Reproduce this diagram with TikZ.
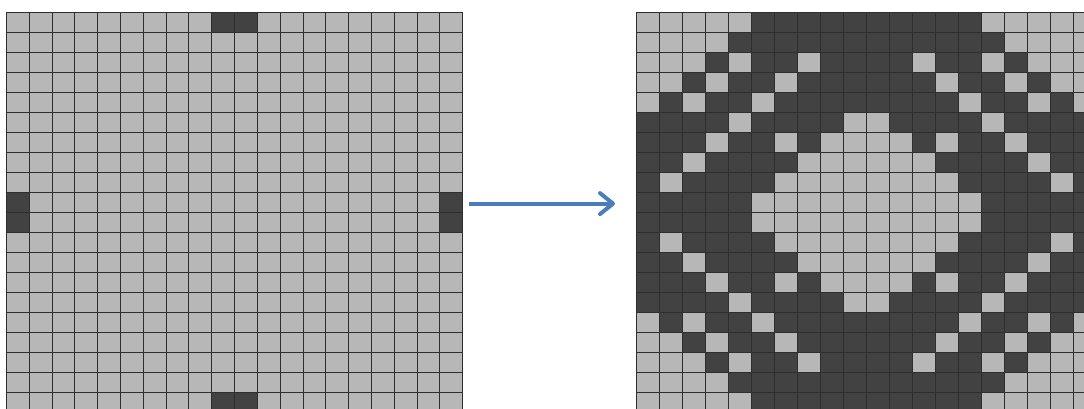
\documentclass[tikz,border=0pt]{standalone}
\usetikzlibrary{arrows.meta}
\definecolor{cellLight}{HTML}{B7B7B7}
\definecolor{cellDark}{HTML}{424242}
\definecolor{gridLine}{HTML}{2E2E2E}
\definecolor{arrowBlue}{HTML}{4A7DBA}
\tikzset{
  lightcell/.style={fill=cellLight},
  darkcell/.style={fill=cellDark},
  gridlines/.style={draw=gridLine, line width=0.8pt},
  flowarrow/.style={draw=arrowBlue, line width=4pt,
    -{Straight Barb[length=13pt, width=21pt, line cap=round, line join=round]}}
}
% rule lines of a 20x20 board in the current cell units
\newcommand{\boardlines}{%
  \foreach \k in {0,...,20} {
    \draw[gridlines] (\k,0) -- (\k,20);
    \draw[gridlines] (0,\k) -- (20,\k);
  }%
}
\begin{document}
\begin{tikzpicture}[x=1pt, y=-1pt]
  \useasboundingbox (0,0) rectangle (1084,408);
  \clip (0,0) rectangle (1084,408);

  % ---- left grid: 20x20, dark pairs in the middle of each edge ----
  \begin{scope}[shift={(6.3,12.3)}, x=22.82pt, y=-20pt]
    \fill[lightcell] (0,0) rectangle (20,20);
    \foreach \c/\r in {9/0,10/0,9/19,10/19,0/9,0/10,19/9,19/10}
      \fill[darkcell] (\c,\r) rectangle ++(1,1);
    \boardlines
    \coordinate (leftE) at (20,10);
  \end{scope}

  % ---- right grid: 20x20, symmetric in both directions ----
  \begin{scope}[shift={(636.7,12.3)}, x=23pt, y=-20pt]
    \fill[lightcell] (0,0) rectangle (20,20);
    % dark columns of the top-left quarter, row by row
    \foreach \r/\cs in {0/{5,6,7,8,9}, 1/{4,5,6,7,8,9}, 2/{3,5,6,8,9},
                        3/{2,4,5,7,8,9}, 4/{1,3,4,6,7,8,9}, 5/{0,1,2,3,5,6,7,8},
                        6/{0,1,2,4,5,7}, 7/{0,1,3,4,5,6}, 8/{0,2,3,4,5},
                        9/{0,1,2,3,4}} {
      \foreach \c in \cs {
        \pgfmathtruncatemacro{\mc}{19-\c}
        \pgfmathtruncatemacro{\mr}{19-\r}
        \fill[darkcell] (\c,\r) rectangle ++(1,1);
        \fill[darkcell] (\mc,\r) rectangle ++(1,1);
        \fill[darkcell] (\c,\mr) rectangle ++(1,1);
        \fill[darkcell] (\mc,\mr) rectangle ++(1,1);
      }
    }
    \boardlines
    \coordinate (rightW) at (0,10);
  \end{scope}

  % ---- arrow between the grids ----
  \coordinate (arrowFrom) at (469,203.6);
  \coordinate (arrowTo) at (615,203.6);
  \draw[flowarrow] (arrowFrom) -- (arrowTo);
\end{tikzpicture}
\end{document}
